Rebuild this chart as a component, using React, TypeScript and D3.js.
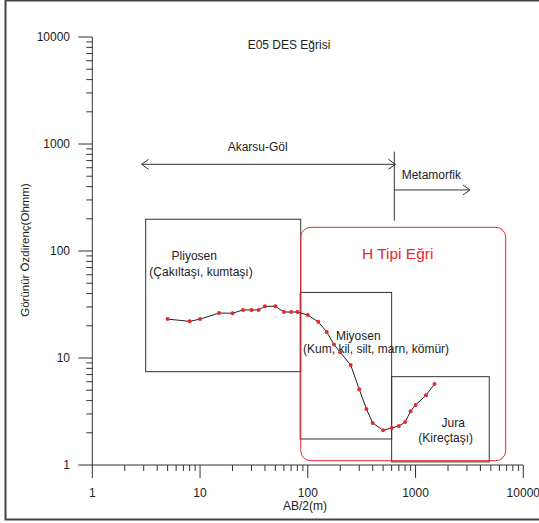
import React from "react";
import * as d3 from "d3";

const abHalf = [5, 8, 10, 15, 20, 25, 30, 35, 40, 50, 60, 70, 80, 100, 125, 150, 175, 200, 250, 300, 350, 400, 500, 600, 700, 800, 900, 1000, 1250, 1500];
const rho = [23.1, 22.0, 23.1, 26.3, 26.2, 28.1, 28.1, 28.1, 30.4, 30.4, 26.9, 26.9, 26.9, 25.2, 21.8, 17.5, 13.4, 11.3, 8.6, 5.1, 3.34, 2.47, 2.11, 2.22, 2.31, 2.52, 3.18, 3.64, 4.48, 5.71];

const xTicks = [1, 10, 100, 1000, 10000];
const yTicks = [1, 10, 100, 1000, 10000];

const boxNames = ["Pliyosen", "Miyosen", "Jura"];
const boxX0 = [3.13, 85, 600];
const boxX1 = [86, 600, 4830];
const boxY0 = [7.45, 1.75, 1.07];
const boxY1 = [198, 41, 6.69];
const boxLine1 = ["Pliyosen", "Miyosen", "Jura"];
const boxLine2 = ["(Çakıltaşı, kumtaşı)", "(Kum, kil, silt, marn, kömür)", "(Kireçtaşı)"];
const line1X = [8.84, 294, 2240];
const line2X = [10.2, 430, 1905];
const line1Y = [82.4, 14.8, 2.3];
const line2Y = [58.8, 11.2, 1.65];

const hRectX = [86, 6870];
const hRectY = [1.097, 166.5];

const W = 539;
const H = 523;
const FONT = "'Liberation Sans', Arial, sans-serif";
const RED = "#e8262e";
const AX = "#333";
const FS = 12;

export default function App() {
  const x = d3.scaleLog().domain([1, 10000]).range([92.3, 523.3]);
  const y = d3.scaleLog().domain([1, 10000]).range([465, 37]);

  const minor: number[] = [];
  for (let p = 0; p < 4; p++) for (let m = 2; m <= 9; m++) minor.push(m * Math.pow(10, p));

  const line = d3
    .line<number>()
    .x((_, i) => x(abHalf[i]))
    .y((d) => y(d));

  const akY = y(646);
  const akX0 = x(2.87);
  const akX1 = x(650);
  const vX = x(635);
  const metY = y(372);
  const metX1 = x(3200);

  return (
    <svg width={W} height={H} style={{ position: "absolute", left: 0, top: 0, background: "#fff" }} fontFamily={FONT}>
      <rect x={5.5} y={0.5} width={560} height={519} fill="none" stroke="#444" strokeWidth={2} />
      <text x={289} y={48.5} fontSize={FS} textAnchor="middle" fill="#222">E05 DES Eğrisi</text>

      {/* boxes */}
      {boxNames.map((n, i) => (
        <rect key={n} x={x(boxX0[i])} y={y(boxY1[i])} width={x(boxX1[i]) - x(boxX0[i])} height={y(boxY0[i]) - y(boxY1[i])} fill="none" stroke={AX} strokeWidth={1} />
      ))}
      <rect x={x(hRectX[0])} y={y(hRectY[1])} width={x(hRectX[1]) - x(hRectX[0])} height={y(hRectY[0]) - y(hRectY[1])} rx={10} ry={10} fill="none" stroke={RED} strokeWidth={1} />
      <text x={397.7} y={258.5} fontSize={15.5} textAnchor="middle" fill={RED}>H Tipi Eğri</text>
      {boxNames.map((n, i) => (
        <g key={n + "t"} fontSize={FS} fill="#222" textAnchor="middle">
          <text x={x(line1X[i])} y={y(line1Y[i]) + 0.5}>{boxLine1[i]}</text>
          <text x={x(line2X[i])} y={y(line2Y[i]) + 0.5}>{boxLine2[i]}</text>
        </g>
      ))}

      {/* arrows */}
      <g stroke={AX} strokeWidth={1} fill="none">
        <line x1={akX0} y1={akY} x2={akX1} y2={akY} />
        <polyline points={`${akX0 + 7},${akY - 5} ${akX0},${akY} ${akX0 + 7},${akY + 5}`} />
        <polyline points={`${akX1 - 7},${akY - 5} ${akX1},${akY} ${akX1 - 7},${akY + 5}`} />
        <line x1={vX} y1={y(848)} x2={vX} y2={y(192)} />
        <line x1={vX} y1={metY} x2={metX1} y2={metY} />
        <polyline points={`${metX1 - 7},${metY - 5} ${metX1},${metY} ${metX1 - 7},${metY + 5}`} />
      </g>
      <text x={257.7} y={151} fontSize={FS} textAnchor="middle" fill="#222">Akarsu-Göl</text>
      <text x={401.7} y={179.3} fontSize={FS} fill="#222">Metamorfik</text>

      {/* axes */}
      <g stroke={AX} strokeWidth={1}>
        <line x1={x(1)} y1={y(1)} x2={x(10000)} y2={y(1)} />
        <line x1={x(1)} y1={y(1)} x2={x(1)} y2={y(10000)} />
        {xTicks.map((t) => (
          <line key={"xt" + t} x1={x(t)} x2={x(t)} y1={y(1)} y2={y(1) + 13} />
        ))}
        {minor.map((t) => (
          <line key={"xm" + t} x1={x(t)} x2={x(t)} y1={y(1)} y2={y(1) + 6} />
        ))}
        {yTicks.map((t) => (
          <line key={"yt" + t} x1={x(1) - 14} x2={x(1)} y1={y(t)} y2={y(t)} />
        ))}
        {minor.map((t) => (
          <line key={"ym" + t} x1={x(1) - 6} x2={x(1)} y1={y(t)} y2={y(t)} />
        ))}
      </g>
      {xTicks.map((t) => (
        <text key={"xl" + t} x={x(t)} y={y(1) + 32} fontSize={FS} textAnchor="middle" fill="#222">{t}</text>
      ))}
      {yTicks.map((t) => (
        <text key={"yl" + t} x={70} y={y(t) + 4.3} fontSize={FS} textAnchor="end" fill="#222">{t}</text>
      ))}
      <text x={305} y={510} fontSize={FS} textAnchor="middle" fill="#222">AB/2(m)</text>
      <text transform={`translate(29,250) rotate(-90)`} fontSize={11.5} textAnchor="middle" fill="#222">Görünür Özdirenç(Ohmm)</text>

      {/* data */}
      <path d={line(rho) || ""} fill="none" stroke="#222" strokeWidth={1} />
      {rho.map((r, i) => (
        <circle key={i} cx={x(abHalf[i])} cy={y(r)} r={2} fill={RED} />
      ))}
    </svg>
  );
}
